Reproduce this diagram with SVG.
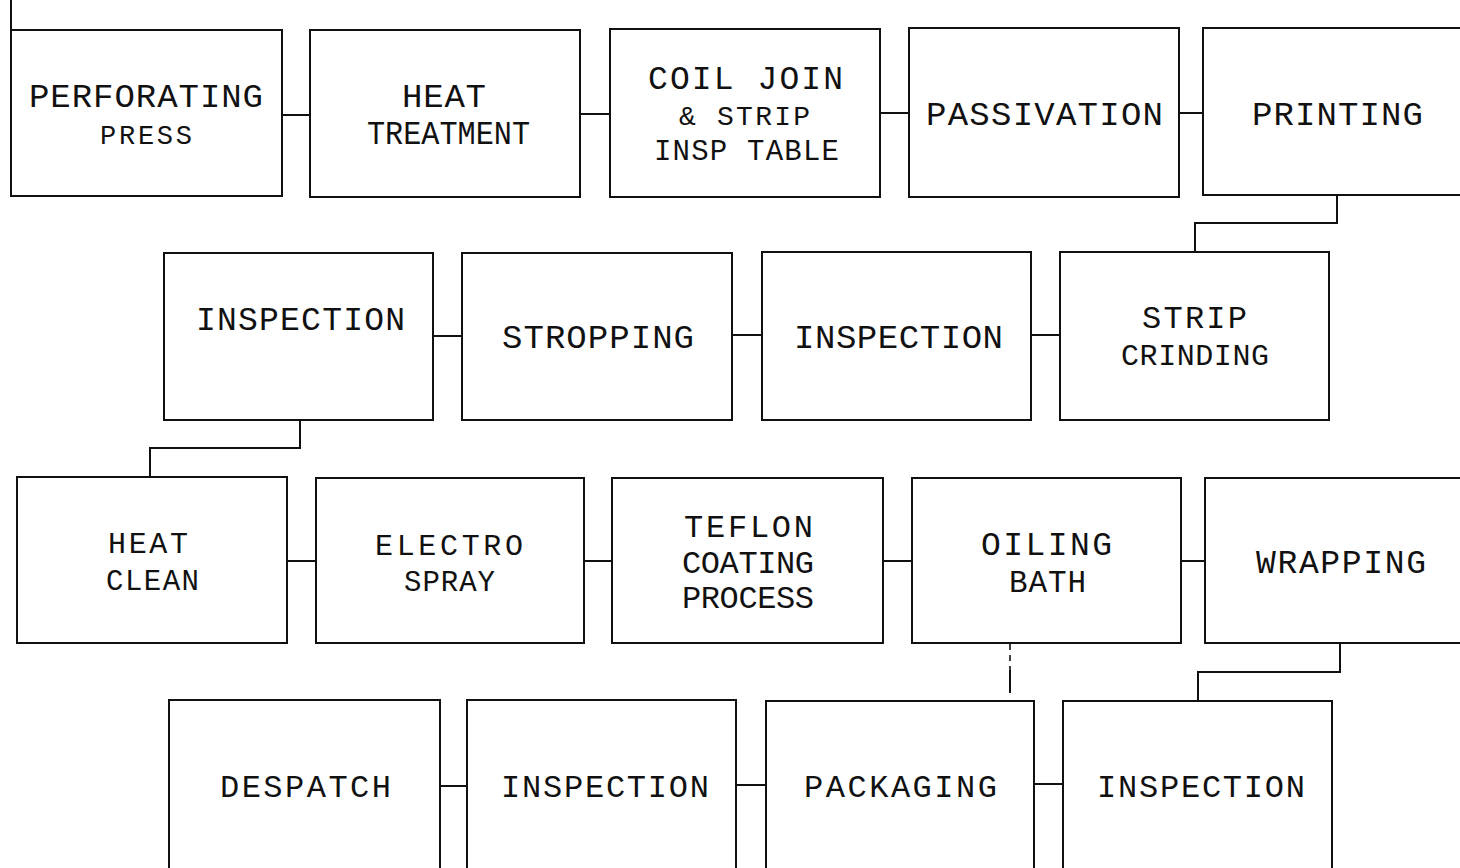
<svg xmlns="http://www.w3.org/2000/svg" width="1460" height="868" viewBox="0 0 1460 868">
<style>
.box{fill:none;stroke:#111;stroke-width:2}
.con{fill:none;stroke:#111;stroke-width:2}
.dash{fill:none;stroke:#111;stroke-width:1.6;stroke-dasharray:6 5}
text{font-family:"Liberation Mono","DejaVu Sans Mono",monospace;fill:#111}
</style>
<rect width="1460" height="868" fill="#fff"/>
<g id="connectors">
<line class="con" x1="11" y1="0" x2="11" y2="30"/>
<line class="con" x1="282" y1="115" x2="310" y2="115"/>
<line class="con" x1="580" y1="114" x2="610" y2="114"/>
<line class="con" x1="880" y1="113" x2="909" y2="113"/>
<line class="con" x1="1179" y1="113" x2="1203" y2="113"/>
<polyline class="con" points="1337,196 1337,223 1195,223 1195,252"/>
<line class="con" x1="433" y1="336" x2="462" y2="336"/>
<line class="con" x1="732" y1="335" x2="762" y2="335"/>
<line class="con" x1="1031" y1="335" x2="1060" y2="335"/>
<polyline class="con" points="300,420 300,448 150,448 150,477"/>
<line class="con" x1="287" y1="561" x2="316" y2="561"/>
<line class="con" x1="584" y1="561" x2="612" y2="561"/>
<line class="con" x1="883" y1="561" x2="912" y2="561"/>
<line class="con" x1="1181" y1="561" x2="1205" y2="561"/>
<polyline class="con" points="1340,643 1340,672 1198,672 1198,700"/>
<line class="dash" x1="1010" y1="644" x2="1010" y2="670"/>
<line class="con" x1="1010" y1="670" x2="1010" y2="693"/>
<line class="con" x1="440" y1="786" x2="467" y2="786"/>
<line class="con" x1="736" y1="785" x2="766" y2="785"/>
<line class="con" x1="1034" y1="784" x2="1063" y2="784"/>
</g>
<g id="n1"><rect class="box" x="11" y="30" width="271" height="166"/>
<text x="29" y="107" font-size="34" textLength="234">PERFORATING</text>
<text x="100" y="144" font-size="27" textLength="92">PRESS</text></g>
<g id="n2"><rect class="box" x="310" y="30" width="270" height="167"/>
<text x="402" y="107" font-size="34" textLength="84">HEAT</text>
<text x="367" y="144" font-size="34" textLength="163" lengthAdjust="spacingAndGlyphs">TREATMENT</text></g>
<g id="n3"><rect class="box" x="610" y="29" width="270" height="168"/>
<text x="648" y="89" font-size="33" textLength="195">COIL JOIN</text>
<text x="679" y="125" font-size="28" textLength="131">&amp; STRIP</text>
<text x="654" y="160" font-size="29" textLength="185">INSP TABLE</text></g>
<g id="n4"><rect class="box" x="909" y="28" width="270" height="169"/>
<text x="926" y="125" font-size="34" textLength="237">PASSIVATION</text></g>
<g id="n5"><rect class="box" x="1203" y="28" width="270" height="167"/>
<text x="1252" y="125" font-size="34" textLength="171">PRINTING</text></g>
<g id="n6"><rect class="box" x="164" y="253" width="269" height="167"/>
<text x="196" y="330" font-size="33" textLength="209">INSPECTION</text></g>
<g id="n7"><rect class="box" x="462" y="253" width="270" height="167"/>
<text x="502" y="348" font-size="34" textLength="192">STROPPING</text></g>
<g id="n8"><rect class="box" x="762" y="252" width="269" height="168"/>
<text x="794" y="348" font-size="34" textLength="209">INSPECTION</text></g>
<g id="n9"><rect class="box" x="1060" y="252" width="269" height="168"/>
<text x="1142" y="328" font-size="32" textLength="105">STRIP</text>
<text x="1121" y="365" font-size="30" textLength="148">CRINDING</text></g>
<g id="n10"><rect class="box" x="17" y="477" width="270" height="166"/>
<text x="108" y="553" font-size="30" textLength="80">HEAT</text>
<text x="106" y="590" font-size="29" textLength="93">CLEAN</text></g>
<g id="n11"><rect class="box" x="316" y="478" width="268" height="165"/>
<text x="375" y="555" font-size="30" textLength="148">ELECTRO</text>
<text x="404" y="591" font-size="29" textLength="91">SPRAY</text></g>
<g id="n12"><rect class="box" x="612" y="478" width="271" height="165"/>
<text x="684" y="537" font-size="32" textLength="129">TEFLON</text>
<text x="682" y="573" font-size="32" textLength="132">COATING</text>
<text x="682" y="608" font-size="32" textLength="132">PROCESS</text></g>
<g id="n13"><rect class="box" x="912" y="478" width="269" height="165"/>
<text x="981" y="555" font-size="33" textLength="131">OILING</text>
<text x="1009" y="592" font-size="31" textLength="77">BATH</text></g>
<g id="n14"><rect class="box" x="1205" y="478" width="270" height="165"/>
<text x="1256" y="573" font-size="33" textLength="170">WRAPPING</text></g>
<g id="n15"><rect class="box" x="169" y="700" width="271" height="190"/>
<text x="220" y="797" font-size="32" textLength="171">DESPATCH</text></g>
<g id="n16"><rect class="box" x="467" y="700" width="269" height="190"/>
<text x="501" y="797" font-size="32" textLength="208">INSPECTION</text></g>
<g id="n17"><rect class="box" x="766" y="701" width="268" height="190"/>
<text x="804" y="797" font-size="32" textLength="193">PACKAGING</text></g>
<g id="n18"><rect class="box" x="1063" y="701" width="269" height="190"/>
<text x="1097" y="797" font-size="32" textLength="208">INSPECTION</text></g>
</svg>
